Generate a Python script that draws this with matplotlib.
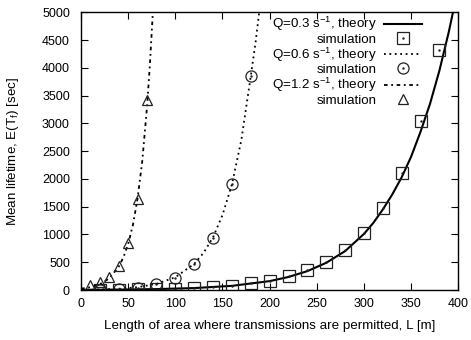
import matplotlib
matplotlib.use("Agg")
import matplotlib.pyplot as plt

plt.rcParams["font.family"] = ["Liberation Sans", "DejaVu Sans"]
plt.rcParams["mathtext.fontset"] = "custom"
plt.rcParams["mathtext.rm"] = "Liberation Sans"
plt.rcParams["mathtext.it"] = "Liberation Sans"
plt.rcParams["font.size"] = 9

# simulated mean lifetimes
L_sim_03 = [20, 40, 60, 80, 100, 120, 140, 160, 180, 200, 220, 240, 260, 280,
            300, 320, 340, 360, 380]
E_sim_03 = [5, 8, 12, 18, 27, 36, 54, 72, 120, 167, 252, 360, 510, 720,
            1021, 1471, 2101, 3043, 4321]

L_sim_06 = [20, 40, 60, 80, 100, 120, 140, 160, 180]
E_sim_06 = [4, 12, 40, 115, 225, 470, 930, 1905, 3860]

L_sim_12 = [10, 20, 30, 40, 50, 60, 70]
E_sim_12 = [85, 140, 230, 425, 840, 1630, 3420]

# theory curves
L_th_03 = [0, 40, 80, 120, 160, 200, 220, 240, 260, 280, 300, 310, 320, 330,
           340, 350, 360, 370, 380, 390, 395]
E_th_03 = [3, 8, 17, 35, 75, 160, 235, 340, 490, 700, 1010, 1210, 1450, 1720,
           2030, 2400, 2850, 3350, 3950, 4650, 5050]

L_th_06 = [0, 20, 40, 60, 80, 100, 120, 130, 140, 150, 160, 170, 180, 185, 190]
E_th_06 = [3, 10, 22, 50, 110, 230, 470, 670, 950, 1350, 1900, 2700, 3850,
           4450, 5150]

L_th_12 = [0, 10, 20, 30, 40, 45, 50, 55, 60, 65, 70, 73, 76, 77]
E_th_12 = [25, 50, 105, 210, 420, 590, 830, 1170, 1650, 2330, 3300, 4050,
           4950, 5300]

fig = plt.figure(figsize=(4.71, 3.40), dpi=100)
ax = fig.add_axes([0.172, 0.147, 0.801, 0.817])

mk = dict(linestyle="none", markerfacecolor="none", markeredgecolor="#222222",
          markeredgewidth=0.9, markersize=8)
dot = dict(linestyle="none", marker=".", color="#222222", markersize=1.5)

th1, = ax.plot(L_th_03, E_th_03, color="black", lw=1.5)
s1, = ax.plot(L_sim_03, E_sim_03, marker="s", **mk)
d1, = ax.plot(L_sim_03, E_sim_03, **dot)

th2, = ax.plot(L_th_06, E_th_06, color="black", lw=1.3, linestyle=(0, (1, 2)))
s2, = ax.plot(L_sim_06, E_sim_06, marker="o", **mk)
d2, = ax.plot(L_sim_06, E_sim_06, **dot)

th3, = ax.plot(L_th_12, E_th_12, color="black", lw=1.3,
               linestyle=(0, (2, 2, 1, 2)))
s3, = ax.plot(L_sim_12, E_sim_12, marker="^", **dict(mk, markersize=7.5))

ax.set_xlim(0, 400)
ax.set_ylim(0, 5000)
ax.set_xticks(range(0, 401, 50))
ax.set_yticks(range(0, 5001, 500))
ax.tick_params(direction="in", top=True, right=True, length=5, width=0.8,
               labelsize=9)
ax.tick_params(axis="x", pad=6)
ax.tick_params(axis="y", pad=8)
for sp in ax.spines.values():
    sp.set_linewidth(1.0)

ax.set_xlabel("Length of area where transmissions are permitted, L [m]",
              fontsize=9.6, labelpad=7)
ax.set_ylabel("Mean lifetime, E(T$_f$) [sec]", fontsize=9.6, labelpad=15)

leg = ax.legend(
    [th1, (s1, d1), th2, (s2, d2), th3, s3],
    ["Q=0.3 s$^{-1}$, theory", "simulation",
     "Q=0.6 s$^{-1}$, theory", "simulation",
     "Q=1.2 s$^{-1}$, theory", "simulation"],
    loc="upper right", bbox_to_anchor=(0.905, 0.99), frameon=False,
    markerfirst=False, handlelength=2.9, handletextpad=0.55,
    labelspacing=0.0, borderpad=0, borderaxespad=0, fontsize=9.6,
)

fig.savefig("out.png", dpi=100)
